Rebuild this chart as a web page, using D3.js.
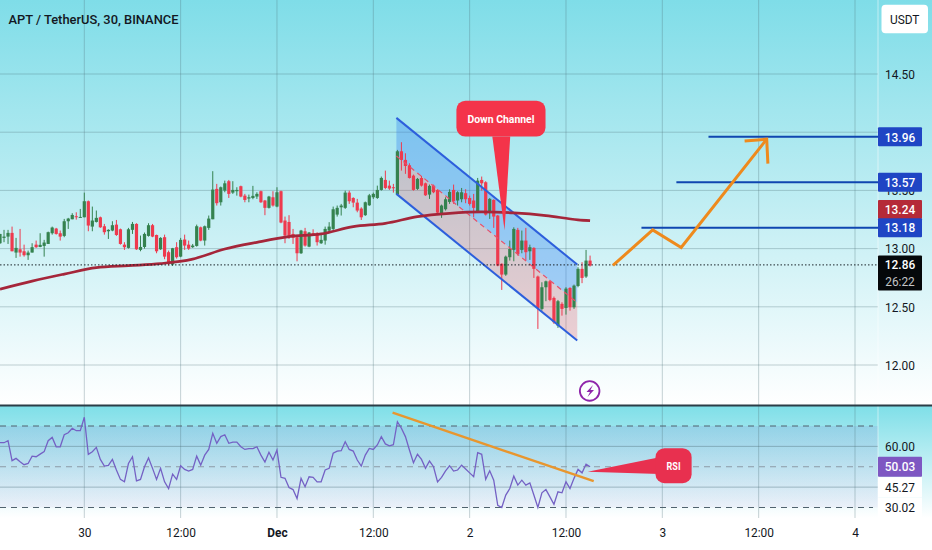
<!DOCTYPE html>
<html>
<head>
<meta charset="utf-8">
<script src="https://cdn.jsdelivr.net/npm/d3@7"></script>
<style>
html, body { margin: 0; padding: 0; background: #fff; }
svg { display: block; }
text { font-family: Roboto, "Noto Sans", sans-serif; }
</style>
</head>
<body>
<script>
// bars are 30 minutes apart, bar 21 is Nov 30 00:00
var opens = [13.046,13.092,13.103,13.135,12.966,12.994,12.977,12.943,12.966,13.034,13.014,13.023,13.040,13.132,13.172,13.132,13.109,13.235,13.252,13.278,13.267,13.269,13.407,13.189,13.229,13.269,13.192,13.149,13.155,13.206,13.166,13.034,13.006,13.161,13.212,12.989,13.014,13.109,13.201,13.117,12.994,13.098,12.969,12.863,13.012,12.931,13.078,13.034,13.012,13.023,13.183,13.069,13.178,13.252,13.513,13.398,13.498,13.579,13.481,13.493,13.536,13.455,13.430,13.435,13.447,13.493,13.413,13.350,13.441,13.361,13.493,13.241,13.229,13.126,13.098,12.960,13.149,13.017,13.132,13.126,13.046,13.069,13.155,13.169,13.292,13.355,13.350,13.481,13.435,13.395,13.344,13.287,13.372,13.441,13.435,13.504,13.590,13.541,13.527,13.464,13.836,13.762,13.716,13.627,13.513,13.607,13.561,13.464,13.541,13.504,13.298,13.338,13.401,13.504,13.413,13.424,13.476,13.435,13.413,13.321,13.590,13.570,13.321,13.418,13.284,12.869,12.777,12.926,12.989,13.161,12.989,13.069,12.977,13.006,12.760,12.482,12.668,12.719,12.576,12.339,12.525,12.490,12.662,12.496,12.679,12.826,12.760,12.897];
var highs = [13.126,13.161,13.161,13.189,13.092,13.169,13.034,12.983,13.046,13.069,13.132,13.075,13.146,13.189,13.178,13.155,13.255,13.264,13.304,13.312,13.341,13.481,13.413,13.361,13.327,13.275,13.212,13.166,13.235,13.246,13.172,13.055,13.178,13.229,13.218,13.112,13.138,13.218,13.212,13.120,13.098,13.120,12.983,13.006,13.055,13.092,13.120,13.069,13.040,13.206,13.189,13.198,13.284,13.665,13.556,13.533,13.584,13.590,13.579,13.527,13.541,13.470,13.464,13.539,13.484,13.498,13.418,13.453,13.493,13.527,13.498,13.275,13.287,13.169,13.103,13.161,13.178,13.143,13.166,13.141,13.132,13.189,13.227,13.361,13.370,13.384,13.498,13.498,13.441,13.427,13.355,13.404,13.470,13.481,13.541,13.619,13.670,13.584,13.556,13.848,13.914,13.819,13.733,13.636,13.607,13.624,13.567,13.550,13.550,13.510,13.378,13.441,13.510,13.550,13.493,13.521,13.510,13.455,13.470,13.607,13.619,13.579,13.435,13.424,13.289,12.874,12.940,13.069,13.183,13.178,13.155,13.178,13.034,13.012,12.768,12.711,12.725,12.731,12.588,12.559,12.539,12.668,12.668,12.691,12.840,12.883,12.989,12.940];
var lows = [13.040,13.055,13.040,12.977,12.920,12.931,12.931,12.903,12.966,13.006,13.012,12.931,13.040,13.120,13.120,13.069,13.098,13.169,13.252,13.249,13.267,13.269,13.149,13.149,13.224,13.178,13.120,13.083,13.149,13.109,13.034,12.989,13.000,13.126,12.989,12.977,13.000,13.103,13.098,12.960,12.989,12.909,12.854,12.851,12.914,12.926,12.989,12.989,13.006,13.017,13.063,13.026,13.161,13.252,13.370,13.370,13.484,13.435,13.470,13.455,13.441,13.398,13.398,13.424,13.427,13.393,13.287,13.344,13.361,13.355,13.218,13.046,13.083,13.040,12.891,12.954,13.017,13.012,13.109,13.026,13.040,13.034,13.141,13.155,13.275,13.284,13.341,13.384,13.355,13.312,13.246,13.281,13.367,13.427,13.427,13.498,13.510,13.504,13.481,13.464,13.670,13.642,13.602,13.498,13.504,13.533,13.453,13.427,13.476,13.304,13.264,13.327,13.384,13.384,13.370,13.398,13.390,13.370,13.269,13.312,13.498,13.284,13.255,13.178,12.848,12.645,12.766,12.897,12.891,12.940,12.960,12.897,12.903,12.748,12.310,12.467,12.548,12.548,12.353,12.319,12.424,12.433,12.467,12.482,12.668,12.703,12.748,12.846];
var closes = [13.126,13.103,13.135,12.977,13.006,12.966,12.943,12.966,13.012,13.012,13.032,13.052,13.141,13.181,13.126,13.103,13.235,13.258,13.289,13.272,13.272,13.407,13.198,13.241,13.264,13.183,13.141,13.161,13.201,13.117,13.040,13.012,13.166,13.212,12.994,13.014,13.126,13.201,13.103,12.977,13.092,12.931,12.869,13.003,12.926,13.075,13.026,13.000,13.026,13.192,13.069,13.192,13.258,13.507,13.390,13.527,13.561,13.470,13.504,13.504,13.447,13.418,13.441,13.453,13.470,13.398,13.350,13.447,13.370,13.484,13.224,13.112,13.103,13.092,12.960,13.155,13.026,13.138,13.120,13.055,13.075,13.169,13.189,13.338,13.350,13.370,13.481,13.407,13.395,13.327,13.269,13.398,13.458,13.470,13.504,13.607,13.521,13.516,13.521,13.836,13.762,13.710,13.607,13.504,13.599,13.541,13.458,13.539,13.484,13.309,13.370,13.424,13.487,13.407,13.484,13.484,13.424,13.384,13.350,13.584,13.561,13.292,13.427,13.275,12.854,12.777,12.931,12.997,13.169,12.954,13.069,12.969,13.012,12.826,12.490,12.668,12.719,12.559,12.367,12.548,12.482,12.656,12.496,12.682,12.826,12.748,12.897,12.854];

var rsi = [61.8,61.8,62.8,53.0,54.1,52.5,51.0,51.6,55.2,54.9,56.2,57.4,62.8,64.4,59.8,59.8,65.7,66.7,68.9,67.7,67.7,74.3,56.1,57.4,59.5,53.6,50.3,50.7,53.6,48.4,43.8,42.6,51.6,54.9,43.1,43.8,50.0,54.3,49.2,43.8,49.2,42.6,39.3,46.4,43.8,50.5,48.7,47.9,48.7,55.2,50.8,55.7,58.5,66.4,61.5,64.8,65.7,61.5,62.1,62.1,59.8,58.5,58.9,58.9,59.8,55.7,52.3,57.1,53.3,58.2,44.8,44.3,39.8,38.8,34.4,44.3,40.2,45.1,44.8,42.6,42.6,48.4,49.2,56.6,57.7,57.9,62.3,58.5,57.7,53.3,50.3,55.7,59.0,58.5,60.7,64.8,61.2,60.3,60.8,72.1,68.9,64.8,58.2,52.0,56.1,53.6,49.2,52.8,50.0,42.6,44.8,48.0,50.5,47.9,48.4,50.8,48.9,47.0,45.1,56.9,56.1,43.8,48.0,43.4,31.1,30.0,36.1,39.3,45.4,41.0,43.4,41.0,42.1,36.1,30.0,37.2,38.8,35.2,31.6,37.7,37.2,42.6,39.3,44.3,48.7,47.0,51.3,50.0];

// 200 period average, read every 8 bars
var maBars = [0,8,16,24,32,40,48,56,64,72,80,88,96,104,112,120,128,136,144,147];
var maValues = [12.652,12.721,12.781,12.837,12.854,12.871,12.910,12.996,13.054,13.103,13.126,13.189,13.217,13.275,13.303,13.315,13.307,13.284,13.247,13.24];

var priceTicks = [14.5,14,13.5,13,12.5,12];
var rsiDashed = [70,50,30];
var rsiSolid = [60,40];
var rsiTickValues = [60,40,30];
var rsiTickLabels = ["60.00","45.27","30.02"];
var timeTickBars = [21,45,69,93,117,141,165,189,213];
var timeTickLabels = ["30","12:00","Dec","12:00","2","12:00","3","12:00","4"];

var lastPrice = 12.86;
var levelPrices = [13.96,13.57,13.18];
var levelLabels = ["13.96","13.57","13.18"];
var levelStartBars = [176.5,168.5,159.8];

// channel drawing, bar and price of each end
var channelBars = [98.75,143.8];
var channelUpper = [14.123,12.863];
var channelMiddle = [13.796,12.536];
var channelLower = [13.470,12.210];

var pathBars = [152.7,162.6,169.7,191];
var pathPrices = [12.855,13.16,13.01,13.94];
var arrowBars = [185.5,191,191.3];
var arrowPrices = [13.925,13.94,13.73];

var rsiTrendBars = [97.8,147.9];
var rsiTrendValues = [76.6,42.9];

// callouts: box corners and tail, in bars and prices / rsi
var downBoxBars = [113.7,135.9];
var downBoxPrices = [14.271,13.962];
var downTailBars = [122.65,125.7,127.1];
var downTailPrices = [13.962,13.155,13.962];
var rsiBoxBars = [163.3,172.3];
var rsiBoxValues = [59.1,41.9];
var rsiTailBars = [164.3,146.4,164.3];
var rsiTailValues = [54.7,47.6,46.4];

var width = 932, height = 550;
var axisX = 878;

var x = d3.scaleLinear().domain([21,213]).range([84.3,855]);
var y = d3.scaleLinear().domain([12,14.5]).range([365,74]);
var yRsi = d3.scaleLinear().domain([30,70]).range([507.5,426]);

var svg = d3.select("body").append("svg")
    .attr("width", width)
    .attr("height", height);

var defs = svg.append("defs");

function gradient(id, stops) {
  var g = defs.append("linearGradient").attr("id", id)
      .attr("x1", 0).attr("y1", 0).attr("x2", 0).attr("y2", 1);
  stops.forEach(function (s) {
    g.append("stop").attr("offset", s[0]).attr("stop-color", s[1]).attr("stop-opacity", s[2] === undefined ? 1 : s[2]);
  });
}
gradient("bgMain", [[0,"#7fdde8"],[0.55,"#c6eff4"],[1,"#ffffff"]]);
gradient("bgRsi", [[0,"#7fdfe8"],[1,"#ffffff"]]);
gradient("rsiBand", [[0,"#7e57c2",0.13],[1,"#7e57c2",0.07]]);

svg.append("rect").attr("width", width).attr("height", 405).attr("fill", "url(#bgMain)");
svg.append("rect").attr("y", 406).attr("width", width).attr("height", 112).attr("fill", "url(#bgRsi)");
svg.append("rect").attr("y", yRsi(70)).attr("width", axisX).attr("height", yRsi(30) - yRsi(70)).attr("fill", "url(#rsiBand)");

// grid
svg.selectAll(".vgrid").data(timeTickBars).enter().append("line")
    .attr("class", "vgrid")
    .attr("x1", function (d) { return x(d); })
    .attr("x2", function (d) { return x(d); })
    .attr("y1", 0).attr("y2", 518)
    .attr("stroke", "#4f6f7a").attr("stroke-opacity", 0.32).attr("stroke-width", 1);
svg.selectAll(".hgrid").data(priceTicks).enter().append("line")
    .attr("class", "hgrid")
    .attr("x1", 0).attr("x2", axisX)
    .attr("y1", function (d) { return y(d); })
    .attr("y2", function (d) { return y(d); })
    .attr("stroke", "#4f6f7a").attr("stroke-opacity", 0.32);
svg.selectAll(".rgrid").data(rsiSolid).enter().append("line")
    .attr("class", "rgrid")
    .attr("x1", 0).attr("x2", axisX)
    .attr("y1", function (d) { return yRsi(d); })
    .attr("y2", function (d) { return yRsi(d); })
    .attr("stroke", "#4f6f7a").attr("stroke-opacity", 0.42);
svg.selectAll(".rdash").data(rsiDashed).enter().append("line")
    .attr("class", "rdash")
    .attr("x1", 0).attr("x2", 873)
    .attr("y1", function (d) { return yRsi(d); })
    .attr("y2", function (d) { return yRsi(d); })
    .attr("stroke", function (d) { return d === 50 ? "#8c9aa6" : "#50636e"; })
    .attr("stroke-width", 1).attr("stroke-dasharray", "6 5");

svg.append("line").attr("x1", axisX).attr("x2", axisX).attr("y1", 0).attr("y2", 518)
    .attr("stroke", "#ffffff").attr("stroke-opacity", 0.5);
svg.append("line").attr("x1", 0).attr("x2", width).attr("y1", 405.5).attr("y2", 405.5)
    .attr("stroke", "#2b3d47").attr("stroke-width", 2);

// channel fills
function band(top, bottom, color, op) {
  var pts = [[channelBars[0], top[0]], [channelBars[1], top[1]], [channelBars[1], bottom[1]], [channelBars[0], bottom[0]]];
  svg.append("path")
      .attr("d", d3.line().x(function (d) { return x(d[0]); }).y(function (d) { return y(d[1]); })(pts) + "Z")
      .attr("fill", color).attr("fill-opacity", op);
}
band(channelUpper, channelMiddle, "#2f7df0", 0.34);
band(channelMiddle, channelLower, "#f23645", 0.22);

// candles
var bars = d3.range(opens.length);
function candleColor(i) { return closes[i] >= opens[i] ? "#35824f" : "#ee3a4e"; }
svg.selectAll(".wick").data(bars).enter().append("line")
    .attr("class", "wick")
    .attr("x1", function (i) { return x(i); })
    .attr("x2", function (i) { return x(i); })
    .attr("y1", function (i) { return y(highs[i]); })
    .attr("y2", function (i) { return y(lows[i]); })
    .attr("stroke", candleColor).attr("stroke-width", 1);
svg.selectAll(".body").data(bars).enter().append("rect")
    .attr("class", "body")
    .attr("x", function (i) { return x(i) - 1.6; })
    .attr("width", 3.2)
    .attr("y", function (i) { return y(Math.max(opens[i], closes[i])); })
    .attr("height", function (i) { return Math.max(1, Math.abs(y(opens[i]) - y(closes[i]))); })
    .attr("fill", candleColor);

// channel lines
var chanLine = d3.line()
    .x(function (d, i) { return x(channelBars[i]); })
    .y(function (d) { return y(d); });
svg.append("path").attr("d", chanLine(channelMiddle)).attr("fill", "none")
    .attr("stroke", "#e8506a").attr("stroke-width", 1.2).attr("stroke-dasharray", "5 4");
svg.append("path").attr("d", chanLine(channelUpper)).attr("fill", "none")
    .attr("stroke", "#2d5fdc").attr("stroke-width", 2);
svg.append("path").attr("d", chanLine(channelLower)).attr("fill", "none")
    .attr("stroke", "#2d5fdc").attr("stroke-width", 2);

// moving average
svg.append("path")
    .attr("d", d3.line().curve(d3.curveMonotoneX)
      .x(function (d, i) { return x(maBars[i]); })
      .y(function (d) { return y(d); })(maValues))
    .attr("fill", "none").attr("stroke", "#a5263a").attr("stroke-width", 2.7);

// last price
svg.append("line").attr("x1", 0).attr("x2", axisX)
    .attr("y1", y(lastPrice)).attr("y2", y(lastPrice))
    .attr("stroke", "#1a2329").attr("stroke-width", 1).attr("stroke-dasharray", "1.5 2");

// target levels
svg.selectAll(".level").data(levelPrices).enter().append("line")
    .attr("class", "level")
    .attr("x1", function (d, i) { return x(levelStartBars[i]); })
    .attr("x2", axisX)
    .attr("y1", function (d) { return y(d); })
    .attr("y2", function (d) { return y(d); })
    .attr("stroke", "#0f46b0").attr("stroke-width", 2);

// orange projection
var orange = d3.line()
    .x(function (d) { return x(d[0]); })
    .y(function (d) { return y(d[1]); });
svg.append("path").attr("d", orange(d3.zip(pathBars, pathPrices)))
    .attr("fill", "none").attr("stroke", "#ee8a1d").attr("stroke-width", 3);
svg.append("path").attr("d", orange(d3.zip(arrowBars, arrowPrices)))
    .attr("fill", "none").attr("stroke", "#ee8a1d").attr("stroke-width", 3);

// callout
svg.append("path")
    .attr("d", orange(d3.zip(downTailBars, downTailPrices)) + "Z")
    .attr("fill", "#f4344a");
svg.append("rect")
    .attr("x", x(downBoxBars[0])).attr("y", y(downBoxPrices[0]))
    .attr("width", x(downBoxBars[1]) - x(downBoxBars[0]))
    .attr("height", y(downBoxPrices[1]) - y(downBoxPrices[0]))
    .attr("rx", 9).attr("fill", "#f4344a");
svg.append("text").attr("class", "callout")
    .attr("x", x((downBoxBars[0] + downBoxBars[1]) / 2))
    .attr("y", y((downBoxPrices[0] + downBoxPrices[1]) / 2))
    .attr("text-anchor", "middle").attr("dy", "0.35em")
    .attr("fill", "#fff").attr("font-size", 11.5).attr("font-weight", 700)
    .attr("textLength", 67).attr("lengthAdjust", "spacingAndGlyphs").text("Down Channel");

// RSI
var rsiPoint = d3.line()
    .x(function (d) { return x(d[0]); })
    .y(function (d) { return yRsi(d[1]); });
svg.append("path")
    .attr("d", rsiPoint(d3.zip(bars, rsi)))
    .attr("fill", "none").attr("stroke", "#7461c4").attr("stroke-width", 1.3);
svg.append("path")
    .attr("d", rsiPoint(d3.zip(rsiTrendBars, rsiTrendValues)))
    .attr("fill", "none").attr("stroke", "#e8962e").attr("stroke-width", 2.4);
svg.append("path")
    .attr("d", rsiPoint(d3.zip(rsiTailBars, rsiTailValues)) + "Z")
    .attr("fill", "#e8304f");
svg.append("rect")
    .attr("x", x(rsiBoxBars[0])).attr("y", yRsi(rsiBoxValues[0]))
    .attr("width", x(rsiBoxBars[1]) - x(rsiBoxBars[0]))
    .attr("height", yRsi(rsiBoxValues[1]) - yRsi(rsiBoxValues[0]))
    .attr("rx", 9).attr("fill", "#e8304f");
svg.append("text").attr("class", "callout")
    .attr("x", x((rsiBoxBars[0] + rsiBoxBars[1]) / 2))
    .attr("y", yRsi((rsiBoxValues[0] + rsiBoxValues[1]) / 2))
    .attr("text-anchor", "middle").attr("dy", "0.35em")
    .attr("fill", "#fff").attr("font-size", 11).attr("font-weight", 700)
    .attr("textLength", 14).attr("lengthAdjust", "spacingAndGlyphs").text("RSI");

// lightning badge
svg.append("circle").attr("cx", x(146.9)).attr("cy", y(11.777)).attr("r", 9.8)
    .attr("fill", "none").attr("stroke", "#8e24aa").attr("stroke-width", 1.8);
svg.append("path").attr("d", "M593 385L586.5 392L590 392L587.5 397L594 390L590.5 390Z").attr("fill", "#8e24aa");

// title
svg.append("text").attr("class", "callout").attr("x", 8.5).attr("y", 19).attr("dy", "0.35em")
    .attr("font-family", "'Noto Sans', sans-serif")
    .attr("font-size", 13.5).attr("font-weight", 500).attr("fill", "#131722")
    .attr("textLength", 170).attr("lengthAdjust", "spacingAndGlyphs")
    .text("APT / TetherUS, 30, BINANCE");

// axes
var priceAxis = d3.axisRight(y).tickValues(priceTicks).tickSize(0).tickPadding(0)
    .tickFormat(d3.format(".2f"));
svg.append("g").attr("transform", "translate(900,0)").call(priceAxis)
    .call(function (g) { g.select(".domain").remove(); })
    .selectAll("text").attr("text-anchor", "middle").attr("font-size", 13.5)
    .attr("font-family", "Roboto").attr("fill", "#131722");

var timeAxis = d3.axisBottom(x).tickValues(timeTickBars).tickSize(0).tickPadding(0)
    .tickFormat(function (d, i) { return timeTickLabels[i]; });
svg.append("g").attr("transform", "translate(0,527)").call(timeAxis)
    .call(function (g) { g.select(".domain").remove(); })
    .selectAll("text").attr("font-size", 13.5).attr("font-family", "Roboto").attr("fill", "#131722")
    .attr("font-weight", function (d, i) { return timeTickLabels[i] === "Dec" ? 700 : 400; });

// right hand labels
function priceBox(yTop, h, fill, labels, color) {
  svg.append("rect").attr("x", axisX).attr("y", yTop).attr("width", 44).attr("height", h)
      .attr("rx", 1).attr("fill", fill);
  labels.forEach(function (t, i) {
    svg.append("text").attr("x", 900).attr("y", yTop + (h / labels.length) * (i + 0.5))
        .attr("dy", "0.35em").attr("text-anchor", "middle").attr("font-size", 13.5).attr("font-weight", i === 0 ? 500 : 400)
        .attr("fill", color[i] || color[0]).text(t);
  });
}
priceBox(y(levelPrices[0]) - 9.5, 19, "#1f45c4", [levelLabels[0]], ["#fff"]);
priceBox(y(levelPrices[1]) - 9.5, 19, "#1f45c4", [levelLabels[1]], ["#fff"]);
priceBox(200, 19, "#b52a38", ["13.24"], ["#fff"]);
priceBox(y(levelPrices[2]) - 9.5, 19, "#1f45c4", [levelLabels[2]], ["#fff"]);
priceBox(255.5, 35, "#05080a", ["12.86", "26:22"], ["#fff", "#c4c6c8"]);

// rsi labels
rsiTickValues.forEach(function (v, i) {
  if (i > 0) svg.append("rect").attr("x", axisX).attr("y", yRsi(v) - 10).attr("width", 44).attr("height", 20).attr("fill", "#fff");
  svg.append("text").attr("x", 900).attr("y", yRsi(v)).attr("dy", "0.35em").attr("text-anchor", "middle")
      .attr("font-size", 13.5).attr("fill", "#131722").text(rsiTickLabels[i]);
});
priceBox(yRsi(50) - 10, 20, "#7e57c2", ["50.03"], ["#fff"]);

// currency button
svg.append("rect").attr("x", 881.5).attr("y", 4.7).attr("width", 46.5).attr("height", 28.5).attr("rx", 4)
    .attr("fill", "#fff");
svg.append("text").attr("x", 904.7).attr("y", 19.5).attr("dy", "0.35em").attr("text-anchor", "middle")
    .attr("font-size", 13.5).attr("fill", "#131722").text("USDT");

// the labels of the reference are tall and narrow
svg.selectAll("text:not(.callout)").each(function () {
  this.setAttribute("textLength", this.getComputedTextLength() * 0.88);
  this.setAttribute("lengthAdjust", "spacingAndGlyphs");
});
</script>
</body>
</html>
